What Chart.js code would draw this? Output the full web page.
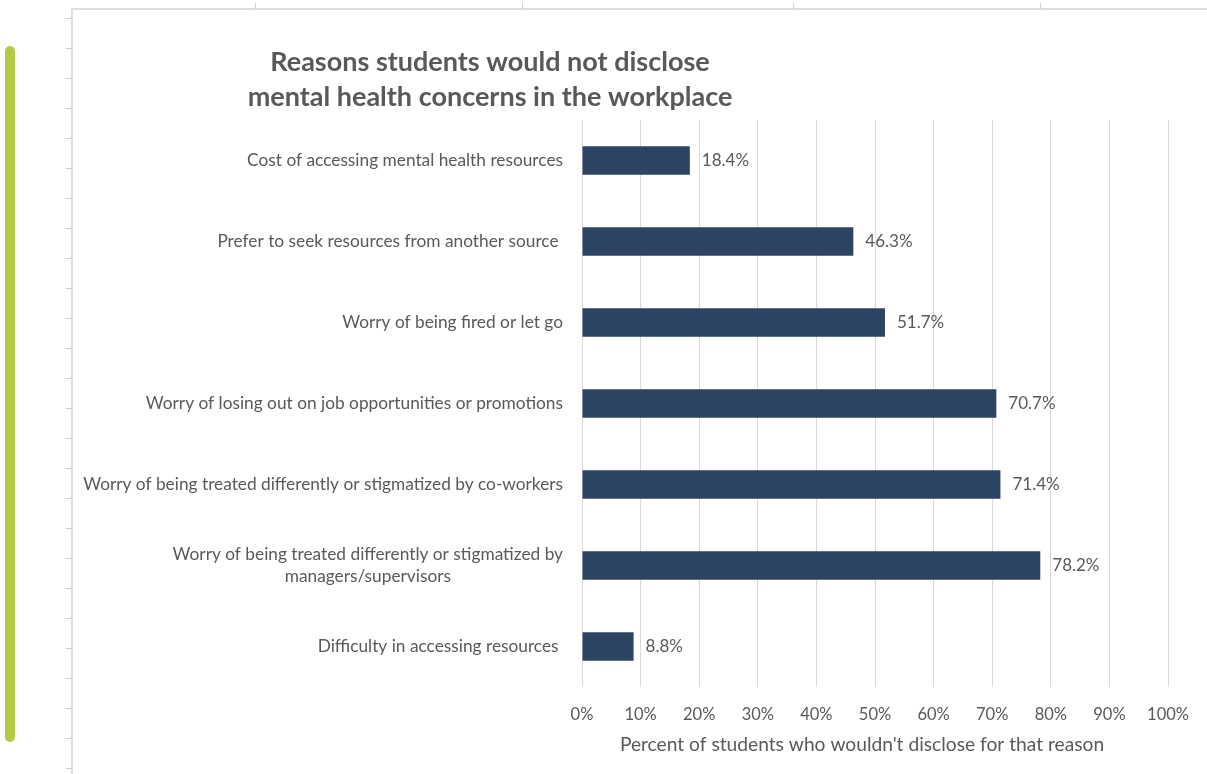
<!DOCTYPE html>
<html>
<head>
<meta charset="utf-8">
<script src="https://cdn.jsdelivr.net/npm/chart.js@4.4.1/dist/chart.umd.min.js"></script>
<style>
    html, body { margin: 0; padding: 0; background: #fff; }
    #page { position: relative; width: 1207px; height: 774px; overflow: hidden; }
    #accent { position: absolute; left: 5px; top: 46px; width: 10px; height: 696px; border-radius: 5px; background: #b5c944; }
    #frame-top { position: absolute; left: 72px; top: 8px; right: 0; height: 2px; background: #dedede; }
    #frame-left { position: absolute; left: 71px; top: 8px; bottom: 0; width: 2px; background: #dedede; }
    .tick-v { position: absolute; top: 3px; width: 1px; height: 6px; background: #cfcfcf; }
    .tick-h { position: absolute; left: 66px; width: 6px; height: 1px; background: #cfcfcf; }
    #chart { position: absolute; left: 0; top: 0; }
</style>
</head>
<body>
<div id="page">
    <div id="accent"></div>
    <div id="frame-top"></div>
    <div id="frame-left"></div>
    <canvas id="chart" width="1207" height="774"></canvas>
</div>
<script>
const titleLines = ["Reasons students would not disclose", "mental health concerns in the workplace"]
const categories = [
    "Cost of accessing mental health resources",
    "Prefer to seek resources from another source ",
    "Worry of being fired or let go",
    "Worry of losing out on job opportunities or promotions",
    "Worry of being treated differently or stigmatized by co-workers",
    ["Worry of being treated differently or stigmatized by", "managers/supervisors"],
    "Difficulty in accessing resources "
]
const values = [18.4, 46.3, 51.7, 70.7, 71.4, 78.2, 8.8]
const tickLabels = ["0%", "10%", "20%", "30%", "40%", "50%", "60%", "70%", "80%", "90%", "100%"]
const axisTitle = "Percent of students who wouldn't disclose for that reason"

const textColor = "#595959"
const barColor = "#2c4462"
const fontFamily = "Lato, 'Open Sans', sans-serif"

// ruler ticks around the sheet edge
const page = document.getElementById("page")
for (let x of [255, 522, 793, 1040]) {
    let t = document.createElement("div")
    t.className = "tick-v"
    t.style.left = x + "px"
    page.appendChild(t)
}
for (let y = 18; y < 774; y += 30) {
    let t = document.createElement("div")
    t.className = "tick-h"
    t.style.top = y + "px"
    page.appendChild(t)
}

// title, category labels, value labels and axis title
const textPlugin = {
    id: "textPlugin",
    afterDraw(chart) {
        const ctx = chart.ctx
        const xs = chart.scales.x
        const ys = chart.scales.y
        ctx.save()
        ctx.fillStyle = textColor
        ctx.textBaseline = "middle"

        ctx.font = "bold 27px " + fontFamily
        ctx.textAlign = "center"
        ctx.fillText(titleLines[0], 490, 62)
        ctx.fillText(titleLines[1], 490, 97)

        ctx.font = "17.3px " + fontFamily
        categories.forEach((label, i) => {
            const lines = Array.isArray(label) ? label : [label]
            const cy = ys.getPixelForValue(i)
            const maxW = Math.max(...lines.map(l => ctx.measureText(l).width))
            const cx = xs.left - 19 - maxW / 2
            lines.forEach((l, j) => {
                ctx.fillText(l, cx, cy + (j - (lines.length - 1) / 2) * 22)
            })
        })

        ctx.font = "17px " + fontFamily
        ctx.textAlign = "left"
        chart.getDatasetMeta(0).data.forEach((bar, i) => {
            ctx.fillText(values[i].toFixed(1) + "%", bar.x + 12, bar.y)
        })

        ctx.font = "19.2px " + fontFamily
        ctx.textAlign = "center"
        ctx.fillText(axisTitle, 862, 745)
        ctx.restore()
    }
}

const ctx = document.getElementById("chart").getContext("2d")
new Chart(ctx, {
    type: "bar",
    data: {
        labels: categories,
        datasets: [{
            data: values,
            backgroundColor: barColor,
            categoryPercentage: 1,
            barPercentage: 0.353
        }]
    },
    options: {
        indexAxis: "y",
        responsive: false,
        animation: false,
        layout: { padding: { left: 582, right: 35, top: 120, bottom: 0 } },
        plugins: { legend: { display: false }, tooltip: { enabled: false } },
        scales: {
            y: { display: false },
            x: {
                min: 0,
                max: 100,
                afterFit: (scale) => { scale.height = 87 },
                grid: { color: "#d9d9d9", drawTicks: false },
                border: { display: false },
                ticks: {
                    stepSize: 10,
                    padding: 18,
                    color: textColor,
                    font: { family: fontFamily, size: 16.5 },
                    callback: (v, i) => tickLabels[i]
                }
            }
        }
    },
    plugins: [textPlugin]
})
</script>
</body>
</html>
